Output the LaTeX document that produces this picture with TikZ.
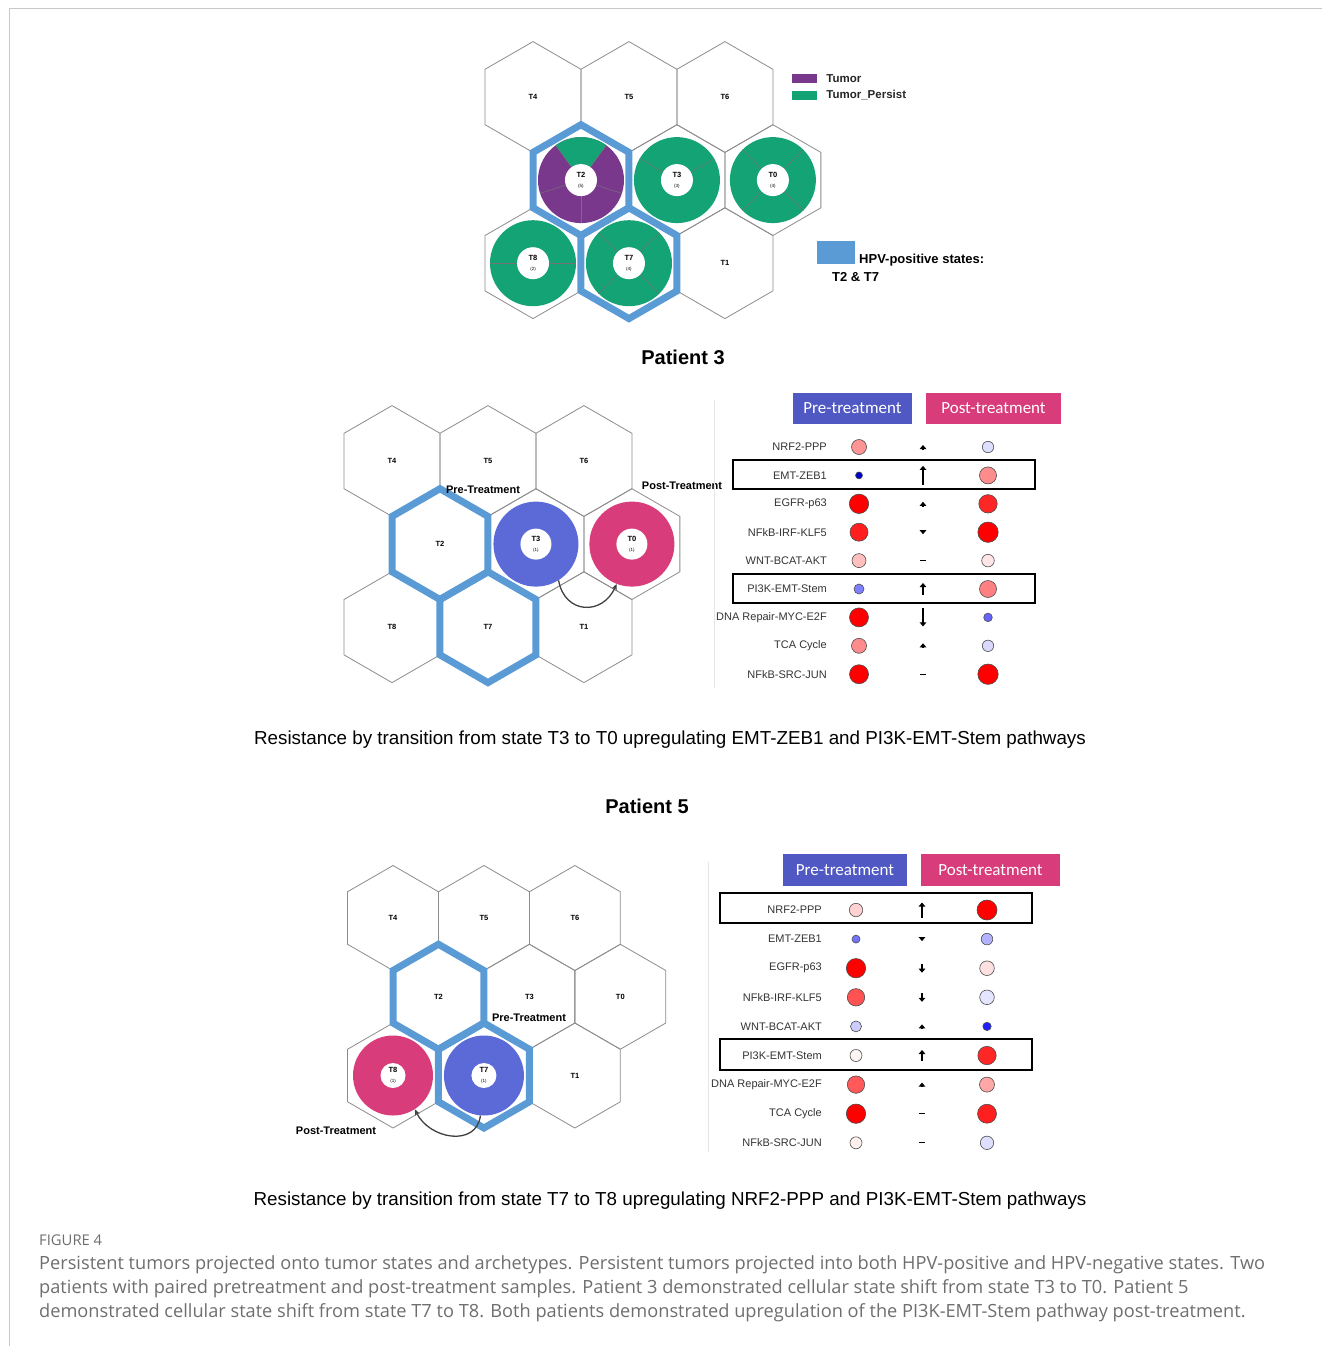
\documentclass[tikz,border=0pt]{standalone}
\usepackage{fontspec}
\setmainfont{Liberation Sans}
\newfontfamily\calibri{Carlito}
\newfontfamily\capfont{Open Sans}
\usetikzlibrary{positioning, shapes.geometric, arrows.meta}

\definecolor{tumorc}{RGB}{122,56,141}
\definecolor{persist}{RGB}{20,163,117}
\definecolor{hpvblue}{RGB}{91,155,213}
\definecolor{prering}{RGB}{91,106,214}
\definecolor{prebox}{RGB}{80,88,196}
\definecolor{postc}{RGB}{216,60,122}
\definecolor{hexgray}{RGB}{140,140,140}
\definecolor{capgray}{RGB}{110,110,110}
\definecolor{framegray}{RGB}{200,200,200}

\newcommand{\tinyfont}{\fontsize{4.5}{5}\selectfont\mdseries}

% nine tumour states on a hexagon grid
\newcommand{\stategrid}[4]{%
  \foreach \lab/\i/\j in {T4/0/0,T5/1/0,T6/2/0,T2/0.5/1,T3/1.5/1,T0/2.5/1,T8/0/2,T7/1/2,T1/2/2}
    \node[hexcell, minimum size={2*#4pt}] (#1\lab) at ({#2+\i*1.7321*#4},{#3+\j*1.5*#4}) {\lab};
}

% change of a pathway score (up > 0, down < 0, 0 = none)
\newcommand{\trend}[3]{%
  \ifdim #3pt=0pt
    \draw[line width=1.2pt] ({#1-3},#2) -- ({#1+3},#2);
  \else
    \draw[trendarrow] (#1,{#2+#3/2}) -- (#1,{#2-#3/2});
  \fi
}

\begin{document}
\begin{tikzpicture}[x=1pt, y=-1pt,
    hexcell/.style={regular polygon, regular polygon sides=6, shape border rotate=30, draw=hexgray, line width=0.8pt, inner sep=0pt, font=\fontsize{7.5}{8}\selectfont\bfseries},
    hpvhex/.style={regular polygon, regular polygon sides=6, shape border rotate=30, draw=hpvblue, line width=7pt, inner sep=0pt},
    segline/.style={draw=black!55, line width=0.5pt},
    core/.style={circle, fill=white, inner sep=0pt, align=center, font=\fontsize{7.5}{9}\selectfont\bfseries},
    ring/.style={circle, inner sep=0pt},
    legbox/.style={rectangle, inner sep=0pt, minimum width=25pt, minimum height=9pt},
    legtext/.style={inner sep=0pt, font=\fontsize{11.5}{12}\selectfont\bfseries, text=black!85},
    hpvtext/.style={anchor=base west, inner sep=0pt, font=\fontsize{13}{14}\selectfont\bfseries},
    title/.style={font=\fontsize{20}{22}\selectfont\bfseries},
    treatlab/.style={inner sep=0pt, font=\fontsize{11}{12}\selectfont\bfseries},
    shiftarrow/.style={-{Stealth[length=6pt, width=5pt]}, draw=black!75, line width=1.3pt},
    hdrbox/.style={rectangle, inner sep=0pt, minimum height=31pt, text=white, font=\calibri\fontsize{17}{18}\selectfont},
    pathlab/.style={anchor=east, inner sep=0pt, font=\fontsize{11}{12}\selectfont, text=black!80},
    dot/.style={circle, draw=black!70, line width=0.6pt, inner sep=0pt},
    hilite/.style={draw=black, line width=1.8pt},
    trendarrow/.style={-{Triangle[width=6.5pt, length=4pt]}, line width=2.2pt},
    restext/.style={font=\fontsize{18.8}{21}\selectfont},
    capline/.style={anchor=base west, inner sep=0pt, text=capgray, font=\capfont\fontsize{18.2}{24}\selectfont}]

    \useasboundingbox (0,0) rectangle (1322,1346);
    \draw[framegray, line width=1pt] (1322,9) -- (9,9) -- (9,1346);

    % Persistent tumours on the states
    \stategrid{a}{533}{97}{55.4}
    \fill[tumorc] (aT2.center) circle[radius=43];
    \fill[persist] (aT2.center) -- ++(-54:43) arc[start angle=-54, end angle=-126, radius=43] -- cycle;
    \foreach \a in {54,126,198,270,342}
        \draw[segline] (aT2.center) -- ++(-\a:43);
    \foreach \st/\segs in {T3/{-30,-150,90}, T0/{45,135,225,315}, T8/{0,180}, T7/{45,135,225,315}} {
        \fill[persist] (a\st.center) circle[radius=43];
        \foreach \a in \segs
            \draw[segline] (a\st.center) -- ++(\a:43);
    }
    \foreach \st/\n in {T2/5, T3/3, T0/4, T8/2, T7/4}
        \node[core, minimum size=32pt] (a\st c) at (a\st.center) {\st\\[0.5pt]{\tinyfont(\n)}};
    \node[hpvhex, minimum size=110.8pt] (aT2hpv) at (aT2.center) {};
    \node[hpvhex, minimum size=110.8pt] (aT7hpv) at (aT7.center) {};

    % Legend
    \node[legbox, fill=tumorc] (legtumor) at (804.5,78.5) {};
    \node[legtext, right=9pt of legtumor] (legtumortxt) {Tumor};
    \node[legbox, fill=persist] (legpersist) at (804.5,95.5) {};
    \node[legtext, right=9pt of legpersist] (legpersisttxt) {Tumor\_Persist};
    \node[legbox, fill=hpvblue, minimum width=38pt, minimum height=23pt] (leghpv) at (836,252.5) {};
    \node[hpvtext] (leghpvtxt) at (859,263) {HPV-positive states:};
    \node[hpvtext] (leghpvstates) at (832,281) {T2 \& T7};

    % Patient 3
    \node[title] (pat3) at (683,357) {Patient 3};
    \stategrid{p3}{392}{461}{55.4}
    \node[hpvhex, minimum size=110.8pt] (p3T2hpv) at (p3T2.center) {};
    \node[hpvhex, minimum size=110.8pt] (p3T7hpv) at (p3T7.center) {};
    \node[ring, fill=prering, minimum size=85pt] (p3T3ring) at (p3T3.center) {};
    \node[core, minimum size=31pt] (p3T3c) at (p3T3.center) {T3\\[0.5pt]{\tinyfont(1)}};
    \node[ring, fill=postc, minimum size=85pt] (p3T0ring) at (p3T0.center) {};
    \node[core, minimum size=31pt] (p3T0c) at (p3T0.center) {T0\\[0.5pt]{\tinyfont(1)}};
    \node[treatlab] (p3pretxt) at (483,490) {Pre-Treatment};
    \node[treatlab] (p3posttxt) at (682,486) {Post-Treatment};
    \draw[shiftarrow] (p3T3ring.-58) .. controls +(6,34) and +(-14,32) .. (p3T0ring.-111);

    \draw[gray!20, line width=0.8pt] (714,400) -- (714,688);
    \node[hdrbox, fill=prebox, minimum width=119pt] (p3pre) at (852.5,408.5) {Pre-treatment};
    \node[hdrbox, fill=postc, minimum width=135pt] (p3post) at (993.5,408.5) {Post-treatment};
    \draw[hilite] (733,460) rectangle (1035,489);
    \draw[hilite] (733,574) rectangle (1035,603);
    \foreach [count=\i] \lab/\ra/\ca/\ar/\rb/\cb in {
        NRF2-PPP/7.5/red!42/4/5.7/blue!13,
        EMT-ZEB1/3.5/blue!80!black/19/8.5/red!45,
        EGFR-p63/9.7/red/4/9.2/red!85,
        NFkB-IRF-KLF5/9/red!88/-4/10.2/red,
        WNT-BCAT-AKT/7/red!25/0/6.3/red!10,
        PI3K-EMT-Stem/5/blue!50/12/8.5/red!50,
        DNA Repair-MYC-E2F/9.5/red/-18/4.3/blue!60,
        TCA Cycle/7.5/red!45/5/5.7/blue!15,
        NFkB-SRC-JUN/9.5/red/0/10.2/red} {
        \pgfmathsetmacro{\y}{447+28.4*(\i-1)}
        \node[pathlab] (p3lab\i) at (827,\y) {\lab};
        \node[dot, minimum size={2*\ra pt}, fill=\ca] (p3a\i) at (859,\y) {};
        \trend{923}{\y}{\ar}
        \node[dot, minimum size={2*\rb pt}, fill=\cb] (p3b\i) at (988,\y) {};
    }
    \node[restext] (p3res) at (670,740) {Resistance by transition from state T3 to T0 upregulating EMT-ZEB1 and PI3K-EMT-Stem pathways};

    % Patient 5
    \node[title] (pat5) at (647,806) {Patient 5};
    \stategrid{p5}{393}{918}{52.5}
    \node[hpvhex, minimum size=105pt] (p5T2hpv) at (p5T2.center) {};
    \node[hpvhex, minimum size=105pt] (p5T7hpv) at (p5T7.center) {};
    \node[ring, fill=postc, minimum size=80pt] (p5T8ring) at (p5T8.center) {};
    \node[core, minimum size=25pt] (p5T8c) at (p5T8.center) {T8\\[0.5pt]{\tinyfont(1)}};
    \node[ring, fill=prering, minimum size=80pt] (p5T7ring) at (p5T7.center) {};
    \node[core, minimum size=25pt] (p5T7c) at (p5T7.center) {T7\\[0.5pt]{\tinyfont(1)}};
    \node[treatlab] (p5pretxt) at (529,1018) {Pre-Treatment};
    \node[treatlab] (p5posttxt) at (336,1131) {Post-Treatment};
    \draw[shiftarrow] (p5T7ring.-95) .. controls +(-4,32) and +(14,30) .. (p5T8ring.-57);

    \draw[gray!20, line width=0.8pt] (708,862) -- (708,1152);
    \node[hdrbox, fill=prebox, minimum width=124pt, minimum height=32pt] (p5pre) at (845,870) {Pre-treatment};
    \node[hdrbox, fill=postc, minimum width=139pt, minimum height=32pt] (p5post) at (990.5,870) {Post-treatment};
    \draw[hilite] (720,893) rectangle (1032,923);
    \draw[hilite] (720,1039) rectangle (1032,1070);
    \foreach [count=\i] \lab/\ra/\ca/\ar/\rb/\cb in {
        NRF2-PPP/6.7/red!18/15/10/red,
        EMT-ZEB1/4/blue!55/-4/5.8/blue!30,
        EGFR-p63/9.7/red/-9/7.3/red!12,
        NFkB-IRF-KLF5/8.7/red!68/-9/7.3/blue!10,
        WNT-BCAT-AKT/5.5/blue!20/4/4.2/blue!88,
        PI3K-EMT-Stem/6/red!4/11/9.2/red!85,
        DNA Repair-MYC-E2F/8.7/red!65/4/7.5/red!35,
        TCA Cycle/9.7/red/0/9.5/red!88,
        NFkB-SRC-JUN/6/red!6/0/6.7/blue!13} {
        \pgfmathsetmacro{\y}{910+29.1*(\i-1)}
        \node[pathlab] (p5lab\i) at (822,\y) {\lab};
        \node[dot, minimum size={2*\ra pt}, fill=\ca] (p5a\i) at (856,\y) {};
        \trend{922}{\y}{\ar}
        \node[dot, minimum size={2*\rb pt}, fill=\cb] (p5b\i) at (987,\y) {};
    }
    \node[restext] (p5res) at (670,1201) {Resistance by transition from state T7 to T8 upregulating NRF2-PPP and PI3K-EMT-Stem pathways};

    % Caption
    \node[capline, font=\capfont\fontsize{14.8}{16}\selectfont] (figno) at (39,1245) {FIGURE 4};
    \node[capline] (cap1) at (39,1269) {Persistent tumors projected onto tumor states and archetypes. Persistent tumors projected into both HPV-positive and HPV-negative states. Two};
    \node[capline] (cap2) at (39,1293) {patients with paired pretreatment and post-treatment samples. Patient 3 demonstrated cellular state shift from state T3 to T0. Patient 5};
    \node[capline] (cap3) at (39,1317) {demonstrated cellular state shift from state T7 to T8. Both patients demonstrated upregulation of the PI3K-EMT-Stem pathway post-treatment.};

\end{tikzpicture}
\end{document}
